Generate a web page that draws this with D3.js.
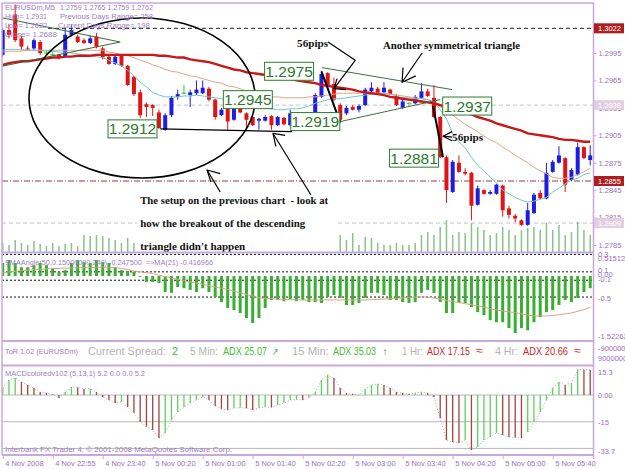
<!DOCTYPE html>
<html>
<head>
<meta charset="utf-8">
<script src="https://cdn.jsdelivr.net/npm/d3@7/dist/d3.min.js"></script>
<style>
  body { margin: 0; background: #fff; }
  svg { display: block; font-family: "Liberation Sans", Arial, sans-serif; }
  .pre { white-space: pre; }
</style>
</head>
<body>
<svg id="chart"></svg>
<script>
// EURUSDm M5, 95 bars (4 Nov 22:15 .. 5 Nov 05:50)
const opens = [1.2993,1.3020,1.3037,1.3011,1.3000,1.3000,1.3007,1.2995,1.2993,1.2993,
  1.2991,1.3015,1.3013,1.3009,1.3006,1.3013,1.3000,1.2991,1.2983,1.2993,
  1.2981,1.2969,1.2952,1.2939,1.2938,1.2930,1.2911,1.2927,1.2947,1.2951,
  1.2949,1.2951,1.2951,1.2956,1.2944,1.2927,1.2934,1.2922,1.2935,1.2929,
  1.2925,1.2921,1.2921,1.2926,1.2916,1.2924,1.2916,1.2929,1.2928,1.2926,
  1.2925,1.2947,1.2973,1.2961,1.2938,1.2929,1.2936,1.2933,1.2938,1.2953,
  1.2956,1.2952,1.2955,1.2948,1.2935,1.2940,1.2940,1.2946,1.2953,1.2946,
  1.2925,1.2881,1.2843,1.2875,1.2865,1.2864,1.2829,1.2845,1.2841,1.2841,
  1.2850,1.2825,1.2817,1.2812,1.2807,1.2820,1.2842,1.2836,1.2865,1.2875,
  1.2880,1.2856,1.2862,1.2892,1.2878];
const highs = [1.3022,1.3027,1.3048,1.3014,1.3003,1.3011,1.3009,1.2998,1.2996,1.2994,
  1.3022,1.3026,1.3015,1.3011,1.3014,1.3017,1.3002,1.2992,1.2992,1.2994,
  1.2982,1.2970,1.2955,1.2941,1.2939,1.2933,1.2929,1.2948,1.2955,1.2960,
  1.2955,1.2965,1.2965,1.2958,1.2945,1.2935,1.2936,1.2936,1.2937,1.2930,
  1.2926,1.2924,1.2927,1.2927,1.2926,1.2925,1.2933,1.2930,1.2929,1.2928,
  1.2951,1.2975,1.2974,1.2968,1.2940,1.2937,1.2938,1.2939,1.2957,1.2963,
  1.2958,1.2963,1.2956,1.2950,1.2944,1.2941,1.2949,1.2962,1.2956,1.2960,
  1.2926,1.2883,1.2878,1.2883,1.2869,1.2865,1.2850,1.2846,1.2845,1.2852,
  1.2851,1.2828,1.2819,1.2813,1.2831,1.2842,1.2845,1.2875,1.2878,1.2893,
  1.2881,1.2869,1.2897,1.2893,1.2894];
const lows = [1.2991,1.3011,1.3007,1.2998,1.2998,1.2998,1.2993,1.2993,1.2992,1.2988,
  1.2990,1.3013,1.3006,1.3005,1.3005,1.3000,1.2988,1.2982,1.2982,1.2980,
  1.2959,1.2948,1.2924,1.2925,1.2926,1.2912,1.2910,1.2925,1.2944,1.2950,
  1.2936,1.2949,1.2950,1.2942,1.2922,1.2926,1.2911,1.2921,1.2929,1.2913,
  1.2915,1.2911,1.2920,1.2911,1.2915,1.2916,1.2915,1.2925,1.2921,1.2923,
  1.2924,1.2946,1.2957,1.2942,1.2919,1.2927,1.2932,1.2930,1.2937,1.2952,
  1.2950,1.2951,1.2949,1.2937,1.2934,1.2938,1.2939,1.2945,1.2947,1.2924,
  1.2880,1.2831,1.2842,1.2864,1.2861,1.2812,1.2828,1.2840,1.2840,1.2840,
  1.2816,1.2814,1.2810,1.2806,1.2806,1.2819,1.2835,1.2835,1.2864,1.2874,
  1.2843,1.2855,1.2861,1.2879,1.2872];
const closes = [1.3020,1.3015,1.3009,1.3002,1.2999,1.3009,1.2995,1.2995,1.2993,1.2990,
  1.3015,1.3020,1.3007,1.3006,1.3011,1.3002,1.2990,1.2983,1.2991,1.2981,
  1.2960,1.2950,1.2927,1.2936,1.2935,1.2913,1.2927,1.2946,1.2950,1.2951,
  1.2952,1.2955,1.2957,1.2944,1.2925,1.2933,1.2920,1.2934,1.2930,1.2922,
  1.2916,1.2923,1.2925,1.2916,1.2925,1.2917,1.2929,1.2926,1.2922,1.2924,
  1.2949,1.2972,1.2959,1.2944,1.2922,1.2935,1.2933,1.2937,1.2955,1.2957,
  1.2951,1.2957,1.2950,1.2938,1.2942,1.2940,1.2947,1.2953,1.2948,1.2925,
  1.2881,1.2845,1.2876,1.2865,1.2863,1.2828,1.2847,1.2841,1.2843,1.2851,
  1.2823,1.2818,1.2814,1.2807,1.2823,1.2840,1.2836,1.2864,1.2876,1.2883,
  1.2851,1.2867,1.2892,1.2880,1.2883];
const volumes = [36,28,48,36,28,44,32,24,36,24,32,36,24,68,64,68,64,56,48,36,56,36,
  60,52,48,72,56,44,40,36,48,44,40,52,64,48,56,44,40,36,44,48,40,36,44,40,48,52,44,40,36,48,84,64,
  68,48,76,28,60,56,36,28,28,36,28,28,36,68,80,68,100,128,68,80,76,116,100,88,68,76,100,88,68,88,
  96,100,88,116,88,108,68,80,120,88,68];

// moving averages on price (read per bar)
const maSlow = [1.2982,1.2984,1.2985,1.2986,1.2986,1.2987,1.2988,1.2989,1.2990,1.2990,
  1.2991,1.2991,1.2992,1.2992,1.2992,1.2993,1.2993,1.2993,1.2993,1.2993,
  1.2993,1.2993,1.2993,1.2993,1.2993,1.2992,1.2992,1.2991,1.2990,1.2990,
  1.2988,1.2987,1.2986,1.2985,1.2983,1.2981,1.2979,1.2977,1.2976,1.2974,
  1.2973,1.2972,1.2971,1.2970,1.2969,1.2968,1.2967,1.2965,1.2964,1.2963,
  1.2962,1.2960,1.2959,1.2958,1.2957,1.2956,1.2955,1.2953,1.2952,1.2951,
  1.2950,1.2949,1.2947,1.2946,1.2945,1.2944,1.2943,1.2942,1.2941,1.2940,
  1.2938,1.2936,1.2934,1.2932,1.2930,1.2928,1.2925,1.2923,1.2921,1.2918,
  1.2916,1.2914,1.2912,1.2910,1.2907,1.2906,1.2905,1.2904,1.2903,1.2901,
  1.2900,1.2900,1.2899,1.2898,1.2898];
const maMid = [1.2996,1.2997,1.2997,1.2997,1.2998,1.2998,1.2998,1.2998,1.2998,1.2998,
  1.2998,1.2998,1.2998,1.2998,1.2998,1.2998,1.2998,1.2996,1.2995,1.2993,
  1.2992,1.2990,1.2987,1.2985,1.2982,1.2980,1.2977,1.2975,1.2974,1.2972,
  1.2970,1.2969,1.2967,1.2965,1.2963,1.2962,1.2959,1.2958,1.2956,1.2953,
  1.2951,1.2949,1.2948,1.2947,1.2947,1.2946,1.2946,1.2946,1.2946,1.2947,
  1.2947,1.2948,1.2949,1.2950,1.2951,1.2951,1.2951,1.2951,1.2951,1.2951,
  1.2951,1.2951,1.2950,1.2949,1.2948,1.2947,1.2946,1.2945,1.2944,1.2940,
  1.2936,1.2932,1.2927,1.2922,1.2917,1.2913,1.2909,1.2904,1.2900,1.2897,
  1.2892,1.2888,1.2883,1.2879,1.2875,1.2870,1.2866,1.2863,1.2859,1.2858,
  1.2858,1.2859,1.2862,1.2865,1.2869];
const maFast = [1.2998,1.2999,1.2999,1.2999,1.2998,1.2998,1.2998,1.2997,1.2997,1.2996,
  1.2996,1.2995,1.2994,1.2993,1.2992,1.2991,1.2990,1.2987,1.2984,1.2981,
  1.2976,1.2970,1.2963,1.2958,1.2952,1.2949,1.2947,1.2947,1.2947,1.2948,
  1.2948,1.2949,1.2948,1.2947,1.2946,1.2945,1.2944,1.2942,1.2941,1.2940,
  1.2938,1.2936,1.2935,1.2934,1.2933,1.2933,1.2934,1.2934,1.2935,1.2937,
  1.2940,1.2942,1.2944,1.2945,1.2945,1.2946,1.2947,1.2948,1.2949,1.2950,
  1.2951,1.2951,1.2950,1.2948,1.2946,1.2946,1.2945,1.2945,1.2944,1.2942,
  1.2933,1.2923,1.2907,1.2898,1.2891,1.2881,1.2872,1.2866,1.2859,1.2853,
  1.2845,1.2841,1.2837,1.2834,1.2832,1.2833,1.2835,1.2837,1.2843,1.2847,
  1.2852,1.2856,1.2858,1.2862,1.2864];

// SMAAngle histogram and its MA(21)
const smaAngle = [0.31,0.38,0.31,0.21,0.21,0.26,0.31,0.26,0.19,0.10,
  0.14,0.31,0.38,0.33,0.31,0.38,0.33,0.31,0.21,0.14,
  0.12,0.10,-0.02,-0.14,-0.14,-0.17,-0.38,-0.40,-0.26,-0.29,
  -0.33,-0.38,-0.29,-0.38,-0.50,-0.62,-0.76,-0.81,-0.88,-1.00,
  -1.12,-1.00,-0.76,-0.57,-0.57,-0.60,-0.55,-0.60,-0.57,-0.62,
  -0.62,-0.64,-0.50,-0.45,-0.52,-0.69,-0.69,-0.64,-0.52,-0.40,
  -0.40,-0.45,-0.57,-0.57,-0.62,-0.64,-0.62,-0.40,-0.33,-0.40,
  -0.62,-0.88,-0.88,-0.64,-0.64,-0.74,-0.86,-0.93,-1.05,-1.10,
  -1.10,-1.24,-1.36,-1.24,-1.29,-1.10,-0.98,-0.86,-0.81,-0.69,
  -0.57,-0.62,-0.52,-0.38,-0.29];
const smaAngleMa = [0.08,0.10,0.11,0.13,0.14,0.15,0.16,0.17,0.18,0.18,
  0.19,0.19,0.20,0.20,0.20,0.21,0.21,0.21,0.20,0.18,
  0.15,0.12,0.10,0.08,0.06,0.02,-0.01,-0.05,-0.08,-0.11,
  -0.14,-0.17,-0.20,-0.23,-0.26,-0.29,-0.32,-0.36,-0.40,-0.44,
  -0.48,-0.52,-0.53,-0.54,-0.55,-0.56,-0.56,-0.57,-0.57,-0.57,
  -0.57,-0.57,-0.57,-0.57,-0.57,-0.57,-0.57,-0.57,-0.57,-0.56,
  -0.56,-0.55,-0.54,-0.53,-0.52,-0.51,-0.50,-0.50,-0.50,-0.52,
  -0.55,-0.58,-0.61,-0.63,-0.66,-0.68,-0.71,-0.74,-0.78,-0.81,
  -0.83,-0.85,-0.87,-0.90,-0.93,-0.95,-0.95,-0.95,-0.94,-0.92,
  -0.90,-0.88,-0.84,-0.80,-0.74];

// MACDcoloredv102 (5,13,1)
const macd = [3.9,8.4,9.6,7.3,5.6,3.9,1.7,1.1,0.3,-1.7,
  1.7,4.5,4.3,3.4,3.5,1.7,-1.1,-2.8,-4.5,-3.9,
  -6.7,-10,-15,-17.8,-19.7,-24.2,-21.3,-14,-9.6,-6.7,
  -4.5,-2.8,-1.1,-2.8,-6.2,-7.9,-8.4,-7.3,-7.2,-7.4,
  -8.4,-7.3,-6.7,-6.9,-5.6,-4.5,-2.8,-2.5,-2.8,-1.5,
  1.7,8.4,11.2,9.6,3.9,1.1,0.6,0,3.4,5.6,
  6.2,5.6,3.9,1.7,1.1,0.5,1.1,1.7,1.1,-1.1,
  -13,-25.3,-26.4,-27,-25.3,-30.9,-29.2,-25.3,-23.6,-21.3,
  -22.5,-23.6,-23.9,-24.2,-20.8,-15.2,-9.6,-2.8,3.9,7.3,
  5.6,6.7,14.3,14.2,14.1];

const tickBars = [0,8,16,24,32,40,48,56,64,72,80,88];
const tickLabels = ["4 Nov 2008","4 Nov 22:55","4 Nov 23:40","5 Nov 00:20","5 Nov 01:00","5 Nov 01:40",
  "5 Nov 02:20","5 Nov 03:00","5 Nov 03:40","5 Nov 04:20","5 Nov 05:00","5 Nov 05:40"];
const priceTicks = [1.2995,1.2965,1.2935,1.2905,1.2875,1.2845,1.2815,1.2785];
const levelDark = [1.3022, 1.2855];
const levelLight = [1.2938, 1.2809];

const W = 625, H = 469;
const frame = "#c9a9db", axisText = "#9b6fbf";
const cUp = "#1d1de0", cDn = "#e01414", cDoji = "#3cbf3c";

const svg = d3.select("#chart").attr("width", W).attr("height", H);
svg.append("rect").attr("width", W).attr("height", H).attr("fill", "#fff");

const x = d3.scaleLinear().domain([0, 94]).range([2.7, 590.2]);
const y = d3.scaleLinear().domain([1.2785, 1.2995]).range([245, 53]);
const yVol = d3.scaleLinear().domain([0, 128]).range([252, 220]);
const yAng = d3.scaleLinear().domain([-1.52262, 0.515125]).range([340, 254.4]);
const yMacd = d3.scaleLinear().domain([-33.7, 15.3]).range([455, 367.8]);

const defs = svg.append("defs");
function clip(id, y0, y1) {
  defs.append("clipPath").attr("id", id).append("rect")
    .attr("x", 2).attr("y", y0).attr("width", 591).attr("height", y1 - y0);
  return svg.append("g").attr("clip-path", `url(#${id})`);
}
const gPrice = clip("cp", 3, 252);
const gAng = clip("ca", 253, 340);
const gMacd = clip("cm", 366, 455);

const pt = (b, p) => [x(b), y(p)];

// ---------- price panel ----------
gPrice.selectAll(".lvl-light").data(levelLight).join("line")
  .attr("x1", 2).attr("x2", 593).attr("y1", d => y(d)).attr("y2", d => y(d))
  .attr("stroke", "#c4c4c4").attr("stroke-dasharray", "4,3");
gPrice.append("line").attr("x1", 48).attr("x2", 593)
  .attr("y1", y(levelDark[0])).attr("y2", y(levelDark[0]))
  .attr("stroke", "#222").attr("stroke-dasharray", "4,3");
gPrice.append("line").attr("x1", 2).attr("x2", 593)
  .attr("y1", y(levelDark[1])).attr("y2", y(levelDark[1]))
  .attr("stroke", "#9a3838").attr("stroke-dasharray", "6,2,1,2");

gPrice.selectAll(".vol").data(volumes).join("line")
  .attr("x1", (d, i) => x(i)).attr("x2", (d, i) => x(i))
  .attr("y1", yVol(0)).attr("y2", d => yVol(d))
  .attr("stroke", "#86c486").attr("stroke-width", 1.5);

const bars = opens.map((o, i) => ({ i, o, h: highs[i], l: lows[i], c: closes[i] }));
const colorOf = d => d.c > d.o ? cUp : d.c < d.o ? cDn : cDoji;
gPrice.selectAll(".wick").data(bars).join("line")
  .attr("x1", d => x(d.i)).attr("x2", d => x(d.i))
  .attr("y1", d => y(d.h)).attr("y2", d => y(d.l))
  .attr("stroke", colorOf).attr("stroke-width", 1);
gPrice.selectAll(".body").data(bars.filter(d => d.o !== d.c)).join("rect")
  .attr("x", d => x(d.i) - 2).attr("width", 4)
  .attr("y", d => y(Math.max(d.o, d.c)))
  .attr("height", d => Math.max(1, Math.abs(y(d.o) - y(d.c))))
  .attr("fill", colorOf);
gPrice.selectAll(".doji").data(bars.filter(d => d.o === d.c)).join("line")
  .attr("x1", d => x(d.i) - 2.5).attr("x2", d => x(d.i) + 2.5)
  .attr("y1", d => y(d.o)).attr("y2", d => y(d.o))
  .attr("stroke", cDoji);

const priceLine = d3.line().x((d, i) => x(i)).y(d => y(d));
gPrice.append("path").datum(maMid).attr("d", priceLine)
  .attr("fill", "none").attr("stroke", "#e2a488").attr("stroke-width", 1);
gPrice.append("path").datum(maFast).attr("d", priceLine)
  .attr("fill", "none").attr("stroke", "#6ccaca").attr("stroke-width", 1);
gPrice.append("path").datum(maSlow).attr("d", priceLine)
  .attr("fill", "none").attr("stroke", "#c81818").attr("stroke-width", 2.4);

// ---------- hand-drawn annotations (in bar / price coordinates) ----------
const ink = gPrice.append("g").attr("fill", "none");
const seg = (pts, color, w) => ink.append("path")
  .attr("d", d3.line()(pts.map(p => pt(p[0], p[1]))))
  .attr("stroke", color).attr("stroke-width", w).attr("stroke-linejoin", "round");

// descending triangle at the top left
seg([[-0.43, 1.3034], [18.8, 1.3007]], "#3a6a3a", 1);
seg([[-0.43, 1.2980], [18.8, 1.3007]], "#3a6a3a", 1);
// symmetrical triangle
seg([[51.1, 1.2979], [71.9, 1.2955]], "#3f6f3f", 1);
seg([[54.0, 1.2920], [70.0, 1.2944]], "#3f6f3f", 1);
// base of the descending triangle
seg([[25.2, 1.2912], [46.3, 1.2909]], "#000", 1.3);
// 56 pip moves
seg([[51.0, 1.2975], [54.0, 1.2919]], "#000", 2);
seg([[68.85, 1.2937], [70.45, 1.2881]], "#000", 2);
// arrows
seg([[52.05, 1.3007], [56.4, 1.2987], [53.0, 1.2956]], "#000", 1.2);
seg([[53.5, 1.2967], [53.0, 1.2956], [54.9, 1.2955]], "#000", 1.2);
seg([[67.1, 1.2995], [63.9, 1.2963]], "#000", 1.2);
seg([[64.05, 1.2979], [63.9, 1.2963], [66.1, 1.2970]], "#000", 1.2);
seg([[71.9, 1.2909], [70.45, 1.2904], [71.9, 1.2899]], "#000", 1.2);
seg([[70.45, 1.2904], [71.9, 1.2903]], "#000", 1.2);

// ellipse round the earlier setup
const ec = pt(22.3, 1.29458);
ink.append("ellipse").attr("cx", ec[0]).attr("cy", ec[1])
  .attr("rx", x(18.1) - x(0)).attr("ry", y(1.2945) - y(1.30325))
  .attr("stroke", "#000").attr("stroke-width", 1.6);

// white note with its arrows
const nTL = pt(21.5, 1.2847), nBR = pt(53.3, 1.2777);
gPrice.append("rect").attr("x", nTL[0]).attr("y", nTL[1])
  .attr("width", nBR[0] - nTL[0]).attr("height", nBR[1] - nTL[1]).attr("fill", "#fff");
const ink2 = gPrice.append("g").attr("fill", "none");
const seg2 = (pts) => ink2.append("path")
  .attr("d", d3.line()(pts.map(p => pt(p[0], p[1]))))
  .attr("stroke", "#000").attr("stroke-width", 1.2).attr("stroke-linejoin", "round");
seg2([[34.8, 1.2843], [32.7, 1.2867]]);
seg2([[34.8, 1.2863], [32.7, 1.2867], [33.3, 1.2854]]);
seg2([[49.3, 1.2840], [43.25, 1.2907]]);
seg2([[45.2, 1.2905], [43.25, 1.2907], [43.7, 1.2893]]);

const notes = [
  { b: 22.0, p: 1.2830, t: "The setup on the previous chart  - look at", w: 188 },
  { b: 22.0, p: 1.2805, t: "how the breakout of the descending", w: 165 },
  { b: 22.0, p: 1.2779, t: "triangle didn't happen", w: 105 },
  { b: 47.1, p: 1.3002, t: "56pips", w: 31 },
  { b: 60.85, p: 1.2999, t: "Another symmetrical triangle", w: 137 },
  { b: 71.9, p: 1.2899, t: "56pips", w: 31 }
];
gPrice.selectAll(".note").data(notes).join("text").attr("class", "pre")
  .attr("x", d => x(d.b)).attr("y", d => y(d.p))
  .attr("textLength", d => d.w).attr("lengthAdjust", "spacingAndGlyphs")
  .attr("font-family", "'Liberation Serif', 'DejaVu Serif', serif")
  .attr("font-weight", "bold").attr("font-size", 11).attr("fill", "#111")
  .text(d => d.t);

// green price boxes
const boxes = [
  { b: 16.85, p: 1.2912, t: "1.2912" },
  { b: 35.3, p: 1.2944, t: "1.2945" },
  { b: 41.9, p: 1.2975, t: "1.2975" },
  { b: 46.1, p: 1.2920, t: "1.2919" },
  { b: 70.4, p: 1.2937, t: "1.2937" },
  { b: 61.9, p: 1.2880, t: "1.2881" }
];
const bx = gPrice.selectAll(".box").data(boxes).join("g")
  .attr("transform", d => `translate(${x(d.b)},${y(d.p)})`);
bx.append("rect").attr("x", 0).attr("y", -9).attr("width", 49).attr("height", 18)
  .attr("fill", "#fff").attr("stroke", "#2d7d2d").attr("stroke-width", 1);
bx.append("text").attr("x", 24.5).attr("y", 5.5).attr("text-anchor", "middle")
  .attr("font-size", 15.5).attr("fill", "#2a7a2a").text(d => d.t);

// header info
const header = [
  [5, 10, "EURUSDm,M5", 50], [60, 10, "1.2759 1.2765 1.2759 1.2762", 93],
  [5, 19, "High= 1.2931", 42], [60, 19, "Previous Days Range= 258", 93],
  [5, 28, "Low= 1.2622", 42], [58, 28, "Current Days Range= 198", 92],
  [5, 37, "Close= 1.2688", 52]
];
svg.selectAll(".hdr").data(header).join("text")
  .attr("x", d => d[0]).attr("y", d => d[1]).attr("textLength", d => d[3])
  .attr("lengthAdjust", "spacingAndGlyphs")
  .attr("font-size", 8).attr("fill", "#a07cc6").text(d => d[2]);

// ---------- SMAAngle panel ----------
gAng.selectAll(".alvl").data([0.515125, 0.1, -0.1, -0.5]).join("line")
  .attr("x1", 2).attr("x2", 593).attr("y1", d => yAng(d)).attr("y2", d => yAng(d))
  .attr("stroke", "#111").attr("stroke-dasharray", "2,2");
gAng.selectAll(".abar").data(smaAngle).join("rect")
  .attr("x", (d, i) => x(i) - 1.5).attr("width", 3)
  .attr("y", d => Math.min(yAng(0), yAng(d)))
  .attr("height", d => Math.abs(yAng(d) - yAng(0)))
  .attr("fill", "#3aae32");
gAng.append("path").datum(smaAngleMa)
  .attr("d", d3.line().x((d, i) => x(i)).y(d => yAng(d)))
  .attr("fill", "none").attr("stroke", "#d6a488").attr("stroke-width", 1);
svg.append("text").attr("class", "pre").attr("x", 5).attr("y", 265)
  .attr("textLength", 208).attr("lengthAdjust", "spacingAndGlyphs")
  .attr("font-size", 8).attr("fill", "#a07cc6")
  .text("SMAAngle(50,0.15000000,240) -0.247500  =>MA(21) -0.416966");

// ---------- ToR info strip ----------
const tor = [
  [5, 353.5, "ToR 1.02 (EURUSDm)", 73, 8, "#a07cc6"],
  [88, 355, "Current Spread:", 78, 11.5, "#b4b4b4"],
  [172, 355, "2", 6, 11.5, "#44bb33"],
  [190, 355, "5 Min:", 28, 11.5, "#b4b4b4"],
  [223, 355, "ADX 25.07", 44, 11.5, "#44bb33"],
  [272, 355, "\u2197", 6, 10, "#33aa22"],
  [292, 355, "15 Min:", 37, 11.5, "#b4b4b4"],
  [333, 355, "ADX 35.03", 43, 11.5, "#44bb33"],
  [382, 355, "\u2191", 6, 10, "#33aa22"],
  [402, 355, "1 Hr:", 21, 11.5, "#b4b4b4"],
  [427, 355, "ADX 17.15", 43, 11.5, "#cc2828"],
  [476, 354, "\u2248", 7, 10, "#cc2828"],
  [495, 355, "4 Hr:", 23, 11.5, "#b4b4b4"],
  [523, 355, "ADX 20.66", 45, 11.5, "#cc2828"],
  [574, 354, "\u2248", 7, 10, "#cc2828"]
];
svg.selectAll(".tor").data(tor).join("text")
  .attr("x", d => d[0]).attr("y", d => d[1]).attr("textLength", d => d[3])
  .attr("lengthAdjust", "spacingAndGlyphs")
  .attr("font-size", d => d[4]).attr("fill", d => d[5]).text(d => d[2]);

// ---------- MACD panel ----------
gMacd.selectAll(".mlvl").data([0, -15, -30]).join("line")
  .attr("x1", 2).attr("x2", 593).attr("y1", d => yMacd(d)).attr("y2", d => yMacd(d))
  .attr("stroke", "#b8b8b8").attr("stroke-width", 1);
gMacd.append("path").datum(macd)
  .attr("d", d3.line().x((d, i) => x(i)).y(d => yMacd(d)))
  .attr("fill", "none").attr("stroke", "#a8a8a8").attr("stroke-dasharray", "1,2");
gMacd.selectAll(".mbar").data(macd).join("line")
  .attr("x1", (d, i) => x(i)).attr("x2", (d, i) => x(i))
  .attr("y1", yMacd(0)).attr("y2", d => yMacd(d))
  .attr("stroke", (d, i) => i === 0 || d > macd[i - 1] ? "#5ccf5c" : "#a0443e")
  .attr("stroke-width", 1.3);
svg.append("text").attr("x", 5).attr("y", 376).attr("textLength", 140)
  .attr("lengthAdjust", "spacingAndGlyphs")
  .attr("font-size", 8).attr("fill", "#a07cc6")
  .text("MACDcoloredv102 (5,13,1) 5.2 0.0 0.0 5.2");
svg.append("text").attr("x", 5).attr("y", 451.5).attr("textLength", 227)
  .attr("lengthAdjust", "spacingAndGlyphs")
  .attr("font-size", 8).attr("fill", "#a07cc6")
  .text("Interbank FX Trader 4, \u00a9 2001-2008 MetaQuotes Software Corp.");

// ---------- frame ----------
const fr = svg.append("g").attr("stroke", frame).attr("fill", "none");
fr.append("line").attr("x1", 2).attr("x2", 594).attr("y1", 3).attr("y2", 3).attr("stroke-width", 1.5);
fr.append("line").attr("x1", 2).attr("x2", 2).attr("y1", 3).attr("y2", 455).attr("stroke-width", 1.5);
fr.append("line").attr("x1", 593.5).attr("x2", 593.5).attr("y1", 3).attr("y2", 459).attr("stroke-width", 1.5);
[252.5, 341, 365.5, 455].forEach(v => fr.append("line")
  .attr("x1", 2).attr("x2", 594).attr("y1", v).attr("y2", v).attr("stroke-width", 2));

// ---------- axes ----------
const fmt = d3.format(".4f");
const yAxis = svg.append("g").attr("transform", "translate(593.5,0)")
  .call(d3.axisRight(y).tickValues(priceTicks).tickSize(3).tickPadding(2).tickFormat(fmt));
yAxis.select(".domain").remove();
yAxis.selectAll("line").attr("stroke", frame);
yAxis.selectAll("text").attr("fill", axisText).attr("font-size", 7.5)
  .attr("font-family", "'Liberation Sans', Arial, sans-serif");

function levelTag(v, bg, fg) {
  const g = svg.append("g").attr("transform", `translate(594,${y(v)})`);
  g.append("rect").attr("x", 0).attr("y", -5).attr("width", 30).attr("height", 10).attr("fill", bg);
  g.append("text").attr("x", 4).attr("y", 3).attr("font-size", 7.5).attr("fill", fg).text(fmt(v));
}
levelDark.forEach(v => levelTag(v, "#ad1f1f", "#fff"));
levelLight.forEach(v => levelTag(v, "#e4cfe2", "#fff"));

const sideLabels = [
  [254, "0.3"], [258, "0.515125"], [270, "0.1"], [274, "0.00"], [279, "-0.1"],
  [298, "-0.5"], [336.5, "-1.52262"], [348.5, "-9000000"], [358.5, "9000000"],
  [372, "15.3"], [395.5, "0.00"], [422, "-15"], [451, "-33.7"]
];
svg.selectAll(".side").data(sideLabels).join("text")
  .attr("x", 598).attr("y", d => d[0] + 2.5).attr("font-size", 7.5)
  .attr("fill", axisText).text(d => d[1]);

const xAxis = svg.append("g").attr("transform", "translate(0,455)")
  .call(d3.axisBottom(x).tickValues(tickBars).tickSize(4)
    .tickFormat((d, i) => tickLabels[i]));
xAxis.select(".domain").remove();
xAxis.selectAll("line").attr("stroke", frame);
xAxis.selectAll("text").attr("text-anchor", "start").attr("x", 2).attr("y", 6)
  .attr("fill", axisText).attr("font-size", 7.5)
  .attr("font-family", "'Liberation Sans', Arial, sans-serif");
</script>
</body>
</html>
